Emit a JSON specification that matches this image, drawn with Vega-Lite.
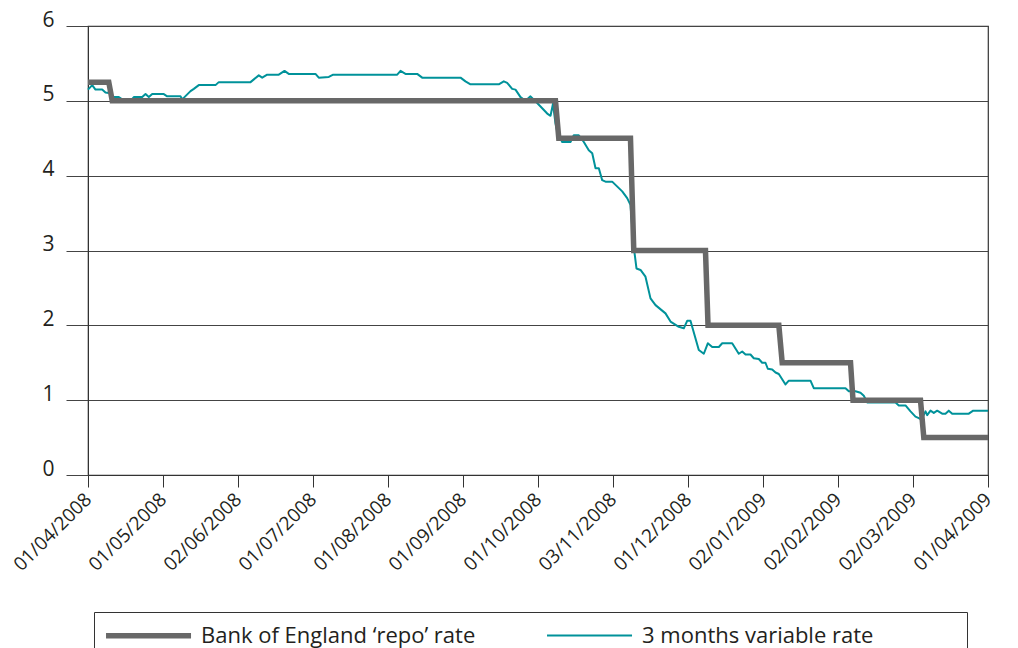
{
  "$schema": "https://vega.github.io/schema/vega-lite/v6.json",
  "autosize": {"type": "none"},
  "width": 900,
  "height": 449,
  "padding": {"left": 88, "top": 26, "right": 30, "bottom": 173},
  "background": "#ffffff",
  "config": {
    "font": "Open Sans",
    "view": {"stroke": "#333333", "strokeWidth": 1.2},
    "axis": {"labelColor": "#231f20", "labelFont": "Open Sans"},
    "legend": {"labelFont": "Open Sans"}
  },
  "datasets": {
    "rates": [
      {"t": 0, "rate": 5.25, "series": "Bank of England ‘repo’ rate"},
      {"t": 0.277, "rate": 5.25, "series": "Bank of England ‘repo’ rate"},
      {"t": 0.323, "rate": 5.0, "series": "Bank of England ‘repo’ rate"},
      {"t": 6.233, "rate": 5.0, "series": "Bank of England ‘repo’ rate"},
      {"t": 6.277, "rate": 4.5, "series": "Bank of England ‘repo’ rate"},
      {"t": 7.233, "rate": 4.5, "series": "Bank of England ‘repo’ rate"},
      {"t": 7.277, "rate": 3.0, "series": "Bank of England ‘repo’ rate"},
      {"t": 8.233, "rate": 3.0, "series": "Bank of England ‘repo’ rate"},
      {"t": 8.267, "rate": 2.0, "series": "Bank of England ‘repo’ rate"},
      {"t": 9.211, "rate": 2.0, "series": "Bank of England ‘repo’ rate"},
      {"t": 9.256, "rate": 1.5, "series": "Bank of England ‘repo’ rate"},
      {"t": 10.167, "rate": 1.5, "series": "Bank of England ‘repo’ rate"},
      {"t": 10.2, "rate": 1.0, "series": "Bank of England ‘repo’ rate"},
      {"t": 11.1, "rate": 1.0, "series": "Bank of England ‘repo’ rate"},
      {"t": 11.144, "rate": 0.5, "series": "Bank of England ‘repo’ rate"},
      {"t": 12, "rate": 0.5, "series": "Bank of England ‘repo’ rate"},

      {"t": 0, "rate": 5.15, "series": "3 months variable rate"},
      {"t": 0.056, "rate": 5.21, "series": "3 months variable rate"},
      {"t": 0.1, "rate": 5.15, "series": "3 months variable rate"},
      {"t": 0.189, "rate": 5.15, "series": "3 months variable rate"},
      {"t": 0.233, "rate": 5.11, "series": "3 months variable rate"},
      {"t": 0.3, "rate": 5.1, "series": "3 months variable rate"},
      {"t": 0.323, "rate": 5.05, "series": "3 months variable rate"},
      {"t": 0.411, "rate": 5.05, "series": "3 months variable rate"},
      {"t": 0.456, "rate": 5.02, "series": "3 months variable rate"},
      {"t": 0.513, "rate": 5.0, "series": "3 months variable rate"},
      {"t": 0.567, "rate": 5.0, "series": "3 months variable rate"},
      {"t": 0.611, "rate": 5.05, "series": "3 months variable rate"},
      {"t": 0.723, "rate": 5.05, "series": "3 months variable rate"},
      {"t": 0.767, "rate": 5.09, "series": "3 months variable rate"},
      {"t": 0.811, "rate": 5.05, "series": "3 months variable rate"},
      {"t": 0.856, "rate": 5.09, "series": "3 months variable rate"},
      {"t": 1.011, "rate": 5.09, "series": "3 months variable rate"},
      {"t": 1.056, "rate": 5.06, "series": "3 months variable rate"},
      {"t": 1.233, "rate": 5.06, "series": "3 months variable rate"},
      {"t": 1.256, "rate": 5.02, "series": "3 months variable rate"},
      {"t": 1.367, "rate": 5.13, "series": "3 months variable rate"},
      {"t": 1.411, "rate": 5.16, "series": "3 months variable rate"},
      {"t": 1.477, "rate": 5.21, "series": "3 months variable rate"},
      {"t": 1.7, "rate": 5.21, "series": "3 months variable rate"},
      {"t": 1.744, "rate": 5.25, "series": "3 months variable rate"},
      {"t": 2.167, "rate": 5.25, "series": "3 months variable rate"},
      {"t": 2.277, "rate": 5.34, "series": "3 months variable rate"},
      {"t": 2.323, "rate": 5.31, "series": "3 months variable rate"},
      {"t": 2.389, "rate": 5.35, "series": "3 months variable rate"},
      {"t": 2.544, "rate": 5.35, "series": "3 months variable rate"},
      {"t": 2.62, "rate": 5.4, "series": "3 months variable rate"},
      {"t": 2.677, "rate": 5.36, "series": "3 months variable rate"},
      {"t": 3.033, "rate": 5.36, "series": "3 months variable rate"},
      {"t": 3.077, "rate": 5.31, "series": "3 months variable rate"},
      {"t": 3.211, "rate": 5.32, "series": "3 months variable rate"},
      {"t": 3.269, "rate": 5.35, "series": "3 months variable rate"},
      {"t": 4.123, "rate": 5.35, "series": "3 months variable rate"},
      {"t": 4.167, "rate": 5.4, "series": "3 months variable rate"},
      {"t": 4.233, "rate": 5.36, "series": "3 months variable rate"},
      {"t": 4.389, "rate": 5.36, "series": "3 months variable rate"},
      {"t": 4.456, "rate": 5.31, "series": "3 months variable rate"},
      {"t": 4.967, "rate": 5.31, "series": "3 months variable rate"},
      {"t": 5.033, "rate": 5.26, "series": "3 months variable rate"},
      {"t": 5.1, "rate": 5.22, "series": "3 months variable rate"},
      {"t": 5.477, "rate": 5.22, "series": "3 months variable rate"},
      {"t": 5.544, "rate": 5.26, "series": "3 months variable rate"},
      {"t": 5.589, "rate": 5.24, "series": "3 months variable rate"},
      {"t": 5.656, "rate": 5.16, "series": "3 months variable rate"},
      {"t": 5.7, "rate": 5.15, "series": "3 months variable rate"},
      {"t": 5.767, "rate": 5.05, "series": "3 months variable rate"},
      {"t": 5.833, "rate": 5.0, "series": "3 months variable rate"},
      {"t": 5.9, "rate": 5.06, "series": "3 months variable rate"},
      {"t": 5.989, "rate": 4.97, "series": "3 months variable rate"},
      {"t": 6.123, "rate": 4.83, "series": "3 months variable rate"},
      {"t": 6.167, "rate": 4.8, "series": "3 months variable rate"},
      {"t": 6.2, "rate": 4.96, "series": "3 months variable rate"},
      {"t": 6.233, "rate": 4.7, "series": "3 months variable rate"},
      {"t": 6.256, "rate": 4.59, "series": "3 months variable rate"},
      {"t": 6.323, "rate": 4.45, "series": "3 months variable rate"},
      {"t": 6.433, "rate": 4.45, "series": "3 months variable rate"},
      {"t": 6.477, "rate": 4.54, "series": "3 months variable rate"},
      {"t": 6.544, "rate": 4.54, "series": "3 months variable rate"},
      {"t": 6.611, "rate": 4.45, "series": "3 months variable rate"},
      {"t": 6.677, "rate": 4.34, "series": "3 months variable rate"},
      {"t": 6.723, "rate": 4.3, "series": "3 months variable rate"},
      {"t": 6.767, "rate": 4.1, "series": "3 months variable rate"},
      {"t": 6.811, "rate": 4.1, "series": "3 months variable rate"},
      {"t": 6.856, "rate": 3.94, "series": "3 months variable rate"},
      {"t": 6.9, "rate": 3.92, "series": "3 months variable rate"},
      {"t": 6.989, "rate": 3.92, "series": "3 months variable rate"},
      {"t": 7.123, "rate": 3.79, "series": "3 months variable rate"},
      {"t": 7.189, "rate": 3.7, "series": "3 months variable rate"},
      {"t": 7.233, "rate": 3.61, "series": "3 months variable rate"},
      {"t": 7.277, "rate": 3.05, "series": "3 months variable rate"},
      {"t": 7.313, "rate": 2.76, "series": "3 months variable rate"},
      {"t": 7.367, "rate": 2.74, "series": "3 months variable rate"},
      {"t": 7.433, "rate": 2.65, "series": "3 months variable rate"},
      {"t": 7.5, "rate": 2.36, "series": "3 months variable rate"},
      {"t": 7.567, "rate": 2.27, "series": "3 months variable rate"},
      {"t": 7.7, "rate": 2.16, "series": "3 months variable rate"},
      {"t": 7.767, "rate": 2.05, "series": "3 months variable rate"},
      {"t": 7.877, "rate": 1.98, "series": "3 months variable rate"},
      {"t": 7.944, "rate": 1.96, "series": "3 months variable rate"},
      {"t": 7.989, "rate": 2.06, "series": "3 months variable rate"},
      {"t": 8.033, "rate": 2.06, "series": "3 months variable rate"},
      {"t": 8.144, "rate": 1.67, "series": "3 months variable rate"},
      {"t": 8.211, "rate": 1.62, "series": "3 months variable rate"},
      {"t": 8.264, "rate": 1.76, "series": "3 months variable rate"},
      {"t": 8.323, "rate": 1.71, "series": "3 months variable rate"},
      {"t": 8.411, "rate": 1.71, "series": "3 months variable rate"},
      {"t": 8.456, "rate": 1.76, "series": "3 months variable rate"},
      {"t": 8.589, "rate": 1.76, "series": "3 months variable rate"},
      {"t": 8.677, "rate": 1.62, "series": "3 months variable rate"},
      {"t": 8.723, "rate": 1.65, "series": "3 months variable rate"},
      {"t": 8.767, "rate": 1.61, "series": "3 months variable rate"},
      {"t": 8.833, "rate": 1.61, "series": "3 months variable rate"},
      {"t": 8.877, "rate": 1.56, "series": "3 months variable rate"},
      {"t": 8.944, "rate": 1.55, "series": "3 months variable rate"},
      {"t": 8.989, "rate": 1.5, "series": "3 months variable rate"},
      {"t": 9.033, "rate": 1.5, "series": "3 months variable rate"},
      {"t": 9.064, "rate": 1.42, "series": "3 months variable rate"},
      {"t": 9.123, "rate": 1.41, "series": "3 months variable rate"},
      {"t": 9.167, "rate": 1.37, "series": "3 months variable rate"},
      {"t": 9.211, "rate": 1.35, "series": "3 months variable rate"},
      {"t": 9.3, "rate": 1.21, "series": "3 months variable rate"},
      {"t": 9.344, "rate": 1.26, "series": "3 months variable rate"},
      {"t": 9.633, "rate": 1.26, "series": "3 months variable rate"},
      {"t": 9.677, "rate": 1.16, "series": "3 months variable rate"},
      {"t": 10.1, "rate": 1.16, "series": "3 months variable rate"},
      {"t": 10.144, "rate": 1.12, "series": "3 months variable rate"},
      {"t": 10.233, "rate": 1.12, "series": "3 months variable rate"},
      {"t": 10.3, "rate": 1.1, "series": "3 months variable rate"},
      {"t": 10.344, "rate": 1.06, "series": "3 months variable rate"},
      {"t": 10.389, "rate": 0.97, "series": "3 months variable rate"},
      {"t": 10.767, "rate": 0.97, "series": "3 months variable rate"},
      {"t": 10.811, "rate": 0.93, "series": "3 months variable rate"},
      {"t": 10.9, "rate": 0.93, "series": "3 months variable rate"},
      {"t": 10.967, "rate": 0.85, "series": "3 months variable rate"},
      {"t": 11.033, "rate": 0.78, "series": "3 months variable rate"},
      {"t": 11.077, "rate": 0.76, "series": "3 months variable rate"},
      {"t": 11.113, "rate": 0.74, "series": "3 months variable rate"},
      {"t": 11.167, "rate": 0.85, "series": "3 months variable rate"},
      {"t": 11.189, "rate": 0.8, "series": "3 months variable rate"},
      {"t": 11.233, "rate": 0.86, "series": "3 months variable rate"},
      {"t": 11.277, "rate": 0.83, "series": "3 months variable rate"},
      {"t": 11.323, "rate": 0.86, "series": "3 months variable rate"},
      {"t": 11.389, "rate": 0.82, "series": "3 months variable rate"},
      {"t": 11.433, "rate": 0.82, "series": "3 months variable rate"},
      {"t": 11.477, "rate": 0.86, "series": "3 months variable rate"},
      {"t": 11.523, "rate": 0.82, "series": "3 months variable rate"},
      {"t": 11.744, "rate": 0.82, "series": "3 months variable rate"},
      {"t": 11.803, "rate": 0.86, "series": "3 months variable rate"},
      {"t": 12, "rate": 0.86, "series": "3 months variable rate"}
    ]
  },
  "data": {"name": "rates"},
  "encoding": {
    "x": {
      "field": "t",
      "type": "quantitative",
      "scale": {"domain": [0, 12], "nice": false, "zero": false},
      "axis": {
        "title": null,
        "values": [0, 1, 2, 3, 4, 5, 6, 7, 8, 9, 10, 11, 12],
        "labelExpr": "['01/04/2008','01/05/2008','02/06/2008','01/07/2008','01/08/2008','01/09/2008','01/10/2008','03/11/2008','01/12/2008','02/01/2009','02/02/2009','02/03/2009','01/04/2009'][datum.value]",
        "labelAngle": -45,
        "labelAlign": "right",
        "labelBaseline": "middle",
        "labelFontSize": 19,
        "labelPadding": 9,
        "labelOverlap": false,
        "labelFlush": false,
        "tickSize": 12,
        "tickColor": "#333333",
        "domainColor": "#333333",
        "grid": false
      }
    },
    "y": {
      "field": "rate",
      "type": "quantitative",
      "scale": {"domain": [0, 6], "nice": false},
      "axis": {
        "title": null,
        "values": [0, 1, 2, 3, 4, 5, 6],
        "labelFontSize": 21,
        "labelBaseline": "alphabetic",
        "labelPadding": 12,
        "tickSize": 22,
        "tickColor": "#444444",
        "domainColor": "#333333",
        "grid": true,
        "gridColor": "#444444",
        "gridWidth": 1
      }
    },
    "color": {
      "field": "series",
      "type": "nominal",
      "scale": {
        "domain": ["Bank of England ‘repo’ rate", "3 months variable rate"],
        "range": ["#686868", "#00929a"]
      },
      "legend": {
        "title": null,
        "orient": "none",
        "legendX": 6,
        "legendY": 586,
        "direction": "horizontal",
        "columns": 2,
        "gridAlign": "each",
        "columnPadding": 67,
        "padding": 12,
        "strokeColor": "#333333",
        "symbolType": "M-1.35,0H8.65",
        "symbolSize": 289,
        "labelFontSize": 22,
        "labelColor": "#231f20",
        "labelOffset": 72,
        "labelLimit": 700,
        "labelExpr": "datum.value == '3 months variable rate' ? datum.label + '\u2800\u2800\u2800   \u2800' : datum.label"
      }
    },
    "strokeWidth": {
      "field": "series",
      "type": "nominal",
      "scale": {
        "domain": ["Bank of England ‘repo’ rate", "3 months variable rate"],
        "range": [5.5, 2]
      },
      "legend": {
        "title": null,
        "orient": "none",
        "legendX": 6,
        "legendY": 586,
        "direction": "horizontal",
        "columns": 2,
        "gridAlign": "each",
        "columnPadding": 67,
        "padding": 12,
        "strokeColor": "#333333",
        "symbolType": "M-1.35,0H8.65",
        "symbolSize": 289,
        "labelFontSize": 22,
        "labelColor": "#231f20",
        "labelOffset": 72,
        "labelLimit": 700,
        "labelExpr": "datum.value == '3 months variable rate' ? datum.label + '\u2800\u2800\u2800   \u2800' : datum.label"
      }
    }
  },
  "layer": [
    {
      "transform": [{"filter": "datum.series === '3 months variable rate'"}],
      "mark": {"type": "line", "strokeJoin": "round"}
    },
    {
      "transform": [{"filter": "datum.series !== '3 months variable rate'"}],
      "mark": {"type": "line", "strokeJoin": "miter", "strokeCap": "butt"}
    }
  ]
}
